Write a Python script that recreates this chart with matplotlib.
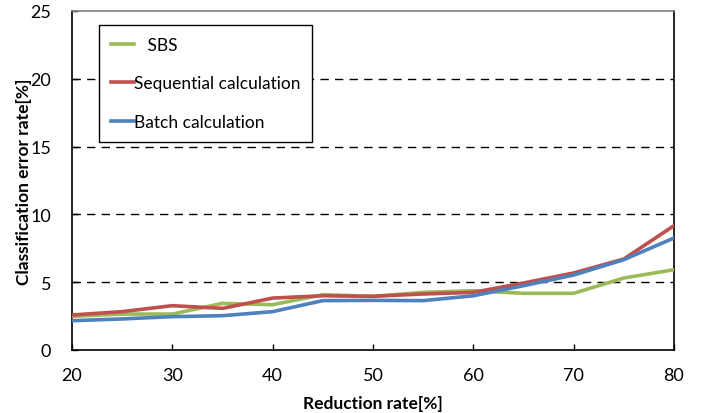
import matplotlib
matplotlib.use("Agg")
import matplotlib.pyplot as plt

plt.rcParams['font.family'] = ['Lato', 'DejaVu Sans']

reduction = [20, 25, 30, 35, 40, 45, 50, 55, 60, 65, 70, 75, 80]
sbs = [2.48, 2.65, 2.65, 3.44, 3.34, 4.08, 3.96, 4.25, 4.37, 4.18, 4.18, 5.31, 5.92]
sequential = [2.58, 2.83, 3.27, 3.07, 3.83, 4.0, 3.96, 4.13, 4.25, 4.94, 5.68, 6.71, 9.17]
batch = [2.16, 2.29, 2.46, 2.53, 2.83, 3.64, 3.66, 3.64, 4.0, 4.74, 5.53, 6.66, 8.26]

fig = plt.figure(figsize=(7.04, 4.14), dpi=100)
ax = fig.add_axes([72 / 704, 1 - 351 / 414, (674 - 72) / 704, (351 - 12) / 414])

# gridlines at 5..20, no line at top
for yv in [5, 10, 15, 20]:
    ax.axhline(yv, color='black', lw=1.0, ls=(0, (6, 4.5)), zorder=1)

ax.plot(reduction, sbs, color='#9BBB59', lw=2.6, label='   SBS', zorder=3)
ax.plot(reduction, sequential, color='#C0504D', lw=2.6, label='Sequential calculation', zorder=3)
ax.plot(reduction, batch, color='#4F81BD', lw=2.6, label='Batch calculation', zorder=4)

ax.set_xlim(20, 80)
ax.set_ylim(0, 25)
ax.set_xticks(range(20, 81, 10))
ax.set_yticks(range(0, 26, 5))
ax.tick_params(direction='in', length=4, width=1, labelsize=13)
ax.tick_params(axis='x', pad=12)
ax.tick_params(axis='y', pad=15)
for side in ['left', 'bottom', 'right']:
    ax.spines[side].set_color('black')
    ax.spines[side].set_linewidth(1.2)
ax.spines['top'].set_color('#808080')
ax.spines['top'].set_linewidth(1.2)

ax.set_xlabel('Reduction rate[%]', fontsize=12.5, fontweight='bold', labelpad=9)
ax.set_ylabel('Classification error rate[%]', fontsize=12.5, fontweight='bold', labelpad=-1)

leg = ax.legend(loc='upper left', bbox_to_anchor=(0.045, 0.96), borderaxespad=0,
                fontsize=12.5, handlelength=1.3, handletextpad=0.0, labelspacing=1.3,
                borderpad=0.7, fancybox=False, framealpha=1, edgecolor='black')
leg.get_frame().set_linewidth(1.0)
leg.set_zorder(5)

fig.savefig('out.png', dpi=100)
